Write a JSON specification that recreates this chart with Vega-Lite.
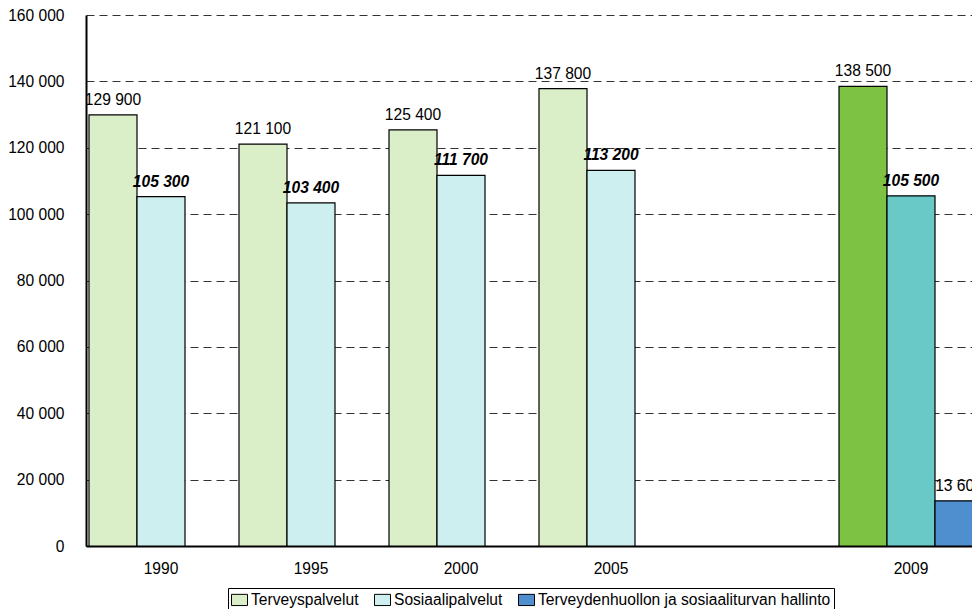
{
  "$schema": "https://vega.github.io/schema/vega-lite/v6.json",
  "width": 886,
  "height": 531,
  "autosize": "none",
  "padding": {"left": 86, "top": 15, "right": 0, "bottom": 63},
  "background": "white",
  "data": {
    "values": [
      {"year": "1990", "series": "Terveyspalvelut", "value": 129900},
      {"year": "1990", "series": "Sosiaalipalvelut", "value": 105300},
      {"year": "1995", "series": "Terveyspalvelut", "value": 121100},
      {"year": "1995", "series": "Sosiaalipalvelut", "value": 103400},
      {"year": "2000", "series": "Terveyspalvelut", "value": 125400},
      {"year": "2000", "series": "Sosiaalipalvelut", "value": 111700},
      {"year": "2005", "series": "Terveyspalvelut", "value": 137800},
      {"year": "2005", "series": "Sosiaalipalvelut", "value": 113200},
      {"year": "2009", "series": "Terveyspalvelut", "value": 138500},
      {"year": "2009", "series": "Sosiaalipalvelut", "value": 105500},
      {"year": "2009", "series": "Terveydenhuollon ja sosiaaliturvan hallinto", "value": 13600}
    ]
  },
  "encoding": {
    "x": {
      "field": "year",
      "type": "nominal",
      "sort": null,
      "scale": {"domain": ["1990", "1995", "2000", "2005", "gap", "2009"], "range": [0, 900], "paddingInner": 0, "paddingOuter": 0},
      "axis": {
        "labelExpr": "datum.value == 'gap' ? '' : datum.value",
        "ticks": false,
        "labelAngle": 0,
        "labelPadding": 15,
        "labelFontSize": 15.6,
        "labelFont": "Liberation Sans",
        "labelColor": "#000",
        "domainColor": "#000",
        "domainWidth": 2,
        "title": null,
        "grid": false
      }
    },
    "xOffset": {
      "field": "series",
      "type": "nominal",
      "scale": {"domain": ["Terveyspalvelut", "Sosiaalipalvelut", "Terveydenhuollon ja sosiaaliturvan hallinto"], "paddingInner": 0, "paddingOuter": 0.0625}
    },
    "y": {
      "field": "value",
      "type": "quantitative",
      "scale": {"domain": [0, 160000], "nice": false},
      "axis": {
        "values": [0, 20000, 40000, 60000, 80000, 100000, 120000, 140000, 160000],
        "labelExpr": "format(datum.value, ',')",
        "grid": true,
        "gridDash": [8, 5],
        "gridColor": "#333",
        "gridWidth": 1,
        "ticks": false,
        "labelPadding": 22,
        "labelFontSize": 15.6,
        "labelFont": "Liberation Sans",
        "labelColor": "#000",
        "domainColor": "#000",
        "domainWidth": 2,
        "title": null
      }
    }
  },
  "layer": [
    {
      "transform": [{"filter": "datum.year != '2009'"}],
      "mark": {"type": "bar", "stroke": "#000", "strokeWidth": 1.2, "clip": true},
      "encoding": {
        "fill": {
          "field": "series",
          "type": "nominal",
          "scale": {
            "domain": ["Terveyspalvelut", "Sosiaalipalvelut", "Terveydenhuollon ja sosiaaliturvan hallinto"],
            "range": ["#DAEEC8", "#CDEFEF", "#4F8FCF"]
          },
          "legend": {
            "orient": "none",
            "legendX": 142,
            "legendY": 573,
            "direction": "horizontal",
            "title": null,
            "strokeColor": "#000",
            "padding": 3,
            "symbolType": "M-1,-0.7H1V0.7H-1Z",
            "symbolSize": 256,
            "symbolStrokeColor": "#000",
            "symbolStrokeWidth": 1,
            "labelFontSize": 15.6,
            "labelFont": "Liberation Sans",
            "labelColor": "#000",
            "labelLimit": 400,
            "columnPadding": 13,
            "labelOffset": 3
          }
        }
      }
    },
    {
      "transform": [{"filter": "datum.year == '2009'"}],
      "mark": {"type": "bar", "stroke": "#000", "strokeWidth": 1.2, "clip": true},
      "encoding": {
        "fill": {
          "field": "series",
          "type": "nominal",
          "scale": {
            "domain": ["Terveyspalvelut", "Sosiaalipalvelut", "Terveydenhuollon ja sosiaaliturvan hallinto"],
            "range": ["#7DC242", "#69C9C6", "#4F8FCF"]
          },
          "legend": null
        }
      }
    },
    {
      "transform": [{"filter": "datum.series != 'Sosiaalipalvelut'"}],
      "mark": {"type": "text", "dy": -10, "baseline": "alphabetic", "fontSize": 15.6, "font": "Liberation Sans", "color": "#000", "clip": true},
      "encoding": {"text": {"field": "value", "type": "quantitative", "format": ","}}
    },
    {
      "transform": [{"filter": "datum.series == 'Sosiaalipalvelut'"}],
      "mark": {"type": "text", "dy": -10, "baseline": "alphabetic", "fontSize": 15.6, "font": "Liberation Sans", "fontWeight": "bold", "fontStyle": "italic", "color": "#000", "clip": true},
      "encoding": {"text": {"field": "value", "type": "quantitative", "format": ","}}
    }
  ],
  "resolve": {"scale": {"fill": "independent"}},
  "config": {
    "view": {"stroke": null},
    "locale": {"number": {"decimal": ",", "thousands": " ", "grouping": [3], "currency": ["", " €"]}}
  }
}
